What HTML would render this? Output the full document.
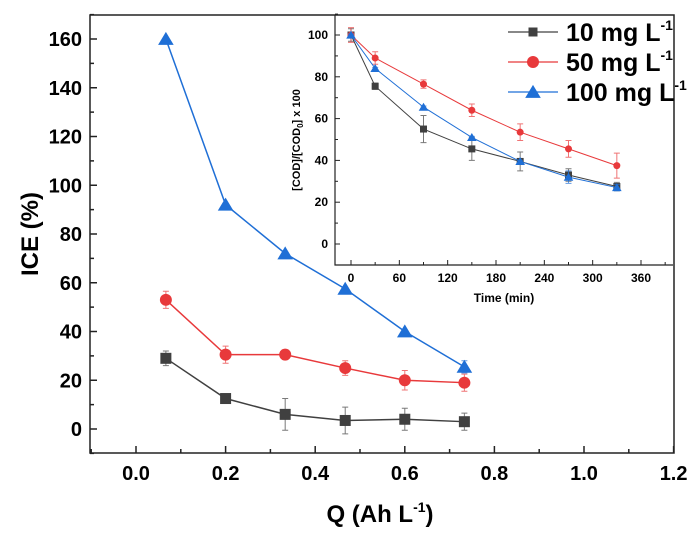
<!DOCTYPE html>
<html><head><meta charset="utf-8"><style>
body{margin:0;background:#fff}
svg{display:block;font-family:"Liberation Sans",Arial,sans-serif;font-weight:bold}
</style></head><body>
<svg id="c" width="699" height="539" viewBox="0 0 699 539" xmlns="http://www.w3.org/2000/svg"></svg>
<script>
const qValues=[0.0667,0.2,0.333,0.467,0.6,0.733];
const ice10=[29,12.5,6,3.5,4,3];
const ice10Err=[3,1.5,6.5,5.5,4.5,3.5];
const ice50=[53,30.5,30.5,25,20,19];
const ice50Err=[3.5,3.5,2,3,4,3.5];
const ice100=[160,92,72,57.5,40,25.5];
const ice100Err=[0.5,0,0,0,0,2.5];
const mainXTicks=[0,0.2,0.4,0.6,0.8,1.0,1.2];
const mainXTickLabels=["0.0","0.2","0.4","0.6","0.8","1.0","1.2"];
const mainYTicks=[0,20,40,60,80,100,120,140,160];
const timeValues=[0,30,90,150,210,270,330];
const cod10=[100,75.5,55,45.5,39.5,33,27.5];
const cod10Err=[3,1.5,6.5,5.5,4.5,3,2];
const cod50=[100,89,76.5,64,53.5,45.5,37.5];
const cod50Err=[3.5,3,2,3,4,4,6];
const cod100=[100,84,65.5,51,39.5,32,27];
const cod100Err=[0.5,0.5,0.5,0.5,0.5,3,1.5];
const insetXTicks=[0,60,120,180,240,300,360];
const insetYTicks=[0,20,40,60,80,100];
const legendLabels=["10 mg L","50 mg L","100 mg L"];

const svg=document.getElementById('c');
const NS='http://www.w3.org/2000/svg';
function mk(tag,attrs,parent){const e=document.createElementNS(NS,tag);for(const k in attrs)e.setAttribute(k,attrs[k]);(parent||svg).appendChild(e);return e;}
const C={k:'#404040',r:'#e8393b',b:'#1f6fd6'};

// main axes
const mx=v=>136+(v-0)*(584-136)/1.0;
const my=v=>429-v*(429-39)/160;
function marker(g,type,x,y,s,col){
  if(type==='sq')return mk('rect',{x:x-s/2,y:y-s/2,width:s,height:s,fill:col},g);
  if(type==='ci')return mk('circle',{cx:x,cy:y,r:s/2,fill:col},g);
  return mk('polygon',{points:`${x},${y-s*0.55} ${x-s*0.6},${y+s*0.45} ${x+s*0.6},${y+s*0.45}`,fill:col},g);
}
function series(xs,ys,es,fx,fy,col,type,s,name,lw){
  const g=mk('g',{});
  
  
  mk('polyline',{points:xs.map((x,i)=>fx(x)+','+fy(ys[i])).join(' '),fill:'none',stroke:col,'stroke-width':lw},g);
  xs.forEach((x,i)=>{
    if(es[i]>0){const X=fx(x),y1=fy(ys[i]-es[i]),y2=fy(ys[i]+es[i]);
      mk('path',{d:`M${X},${y1}V${y2}M${X-3},${y1}H${X+3}M${X-3},${y2}H${X+3}`,stroke:col,'stroke-width':1,opacity:0.7,fill:'none'},g);}
    const m=marker(g,type,fx(x),fy(ys[i]),s,col);
    
    
  });
}
// main frame
const frame=mk('path',{d:'M90,15V453H674V15Z',fill:'none',stroke:'#222','stroke-width':1.5});


mainXTicks.forEach((v,i)=>{
  mk('line',{x1:mx(v),x2:mx(v),y1:453,y2:446,stroke:'#222','stroke-width':1.5});
  if(i<mainXTicks.length-1)mk('line',{x1:mx(v+0.1),x2:mx(v+0.1),y1:453,y2:449,stroke:'#222','stroke-width':1.5});
  const t=mk('text',{x:mx(v),y:480,'text-anchor':'middle','font-size':20});t.textContent=mainXTickLabels[i];
  
  
});
mk('line',{x1:mx(-0.1),x2:mx(-0.1),y1:453,y2:449,stroke:'#222','stroke-width':1.5});
mainYTicks.forEach(v=>{
  mk('line',{x1:90,x2:97,y1:my(v),y2:my(v),stroke:'#222','stroke-width':1.5});
  mk('line',{x1:90,x2:94,y1:my(v+10),y2:my(v+10),stroke:'#222','stroke-width':1.5});
  const t=mk('text',{x:82,y:my(v)+7,'text-anchor':'end','font-size':20});t.textContent=v;
  
  
});
mk('line',{x1:90,x2:94,y1:my(-10),y2:my(-10),stroke:'#222','stroke-width':1.5});
const xt=mk('text',{x:380,y:522,'text-anchor':'middle','font-size':24});
xt.innerHTML='Q (Ah L<tspan font-size="14" dy="-10">-1</tspan><tspan dy="10">)</tspan>';


const yt=mk('text',{x:0,y:0,'text-anchor':'middle','font-size':24,transform:'translate(38,234) rotate(-90)'});
yt.textContent='ICE (%)';



series(qValues,ice10,ice10Err,mx,my,C.k,'sq',11,'series-10mg',1.5);
series(qValues,ice50,ice50Err,mx,my,C.r,'ci',12,'series-50mg',1.5);
series(qValues,ice100,ice100Err,mx,my,C.b,'tr',13,'series-100mg',1.5);

// inset
const ix=v=>351+v*(641-351)/360;
const iy=v=>244-v*(244-35)/100;
const ib=mk('path',{d:'M335,15V265H673',fill:'none',stroke:'#222','stroke-width':1.2});


insetXTicks.forEach(v=>{
  mk('line',{x1:ix(v),x2:ix(v),y1:265,y2:260,stroke:'#222','stroke-width':1});
  mk('line',{x1:ix(v+30),x2:ix(v+30),y1:265,y2:262,stroke:'#222','stroke-width':1});
  const t=mk('text',{x:ix(v),y:282,'text-anchor':'middle','font-size':12});t.textContent=v;
  
  
});
insetYTicks.forEach(v=>{
  mk('line',{x1:335,x2:340,y1:iy(v),y2:iy(v),stroke:'#222','stroke-width':1});
  mk('line',{x1:335,x2:338,y1:iy(v+10),y2:iy(v+10),stroke:'#222','stroke-width':1});
  const t=mk('text',{x:328,y:iy(v)+4,'text-anchor':'end','font-size':12});t.textContent=v;
  
  
});
const it=mk('text',{x:504,y:302,'text-anchor':'middle','font-size':12});it.textContent='Time (min)';


const iyt=mk('text',{x:0,y:0,'text-anchor':'middle','font-size':11,transform:'translate(300,140) rotate(-90)'});
iyt.innerHTML='[COD]/[COD<tspan font-size="8" dy="3">0</tspan><tspan dy="-3">] x 100</tspan>';



series(timeValues,cod10,cod10Err,ix,iy,C.k,'sq',7,'inset-series-10mg',1);
series(timeValues,cod50,cod50Err,ix,iy,C.r,'ci',7,'inset-series-50mg',1);
series(timeValues,cod100,cod100Err,ix,iy,C.b,'tr',8,'inset-series-100mg',1);

// legend
const types=['sq','ci','tr'],cols=[C.k,C.r,C.b];
legendLabels.forEach((lab,i)=>{
  const y=32+i*30;
  const g=mk('g',{});
  
  
  mk('line',{x1:508,x2:558,y1:y,y2:y,stroke:cols[i],'stroke-width':1.2},g);
  marker(g,types[i],533,y,i===2?13:(i===1?12:9),cols[i]);
  const t=mk('text',{x:566,y:y+9,'font-size':25},g);
  t.innerHTML=lab+'<tspan font-size="14" dy="-11">-1</tspan>';
});
</script>
</body></html>
